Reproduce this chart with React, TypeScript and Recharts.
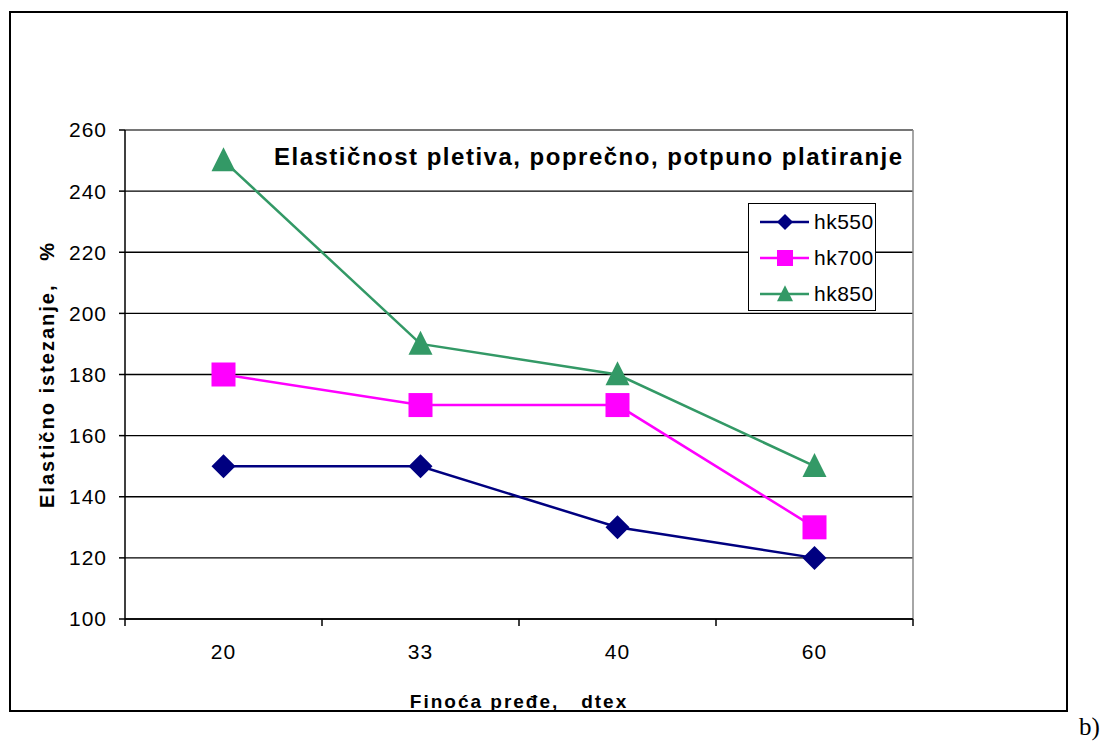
import React from "react";
import {
  LineChart,
  Line,
  XAxis,
  YAxis,
  CartesianGrid,
  Legend,
  ReferenceLine,
} from "recharts";

const categories = ["20", "33", "40", "60"];
const hk550 = [150, 150, 130, 120];
const hk700 = [180, 170, 170, 130];
const hk850 = [250, 190, 180, 150];
const yTicks = [100, 120, 140, 160, 180, 200, 220, 240, 260];

const NAVY = "#000080";
const MAGENTA = "#ff00ff";
const GREEN = "#339966";
const FONT = '"Liberation Sans", Arial, sans-serif';

const series = [
  { key: "hk550", color: NAVY, shape: "diamond" },
  { key: "hk700", color: MAGENTA, shape: "square" },
  { key: "hk850", color: GREEN, shape: "triangle" },
] as const;

const data = categories.map((dtex, i) => ({
  dtex,
  hk550: hk550[i],
  hk700: hk700[i],
  hk850: hk850[i],
}));

type Shape = "diamond" | "square" | "triangle";

function Marker({ cx, cy, shape, color, r }: { cx: number; cy: number; shape: Shape; color: string; r: number }) {
  if (shape === "diamond") {
    return <polygon points={`${cx},${cy - r} ${cx + r},${cy} ${cx},${cy + r} ${cx - r},${cy}`} fill={color} />;
  }
  if (shape === "square") {
    return <rect x={cx - r} y={cy - r} width={2 * r} height={2 * r} fill={color} />;
  }
  return <polygon points={`${cx},${cy - r * 1.1} ${cx + r},${cy + r * 0.9} ${cx - r},${cy + r * 0.9}`} fill={color} />;
}

const dotFor = (shape: Shape, color: string) => (p: any) => (
  <Marker key={`${shape}-${p.index}`} cx={p.cx} cy={p.cy} shape={shape} color={color} r={12} />
);

// Excel style category axis: tick marks sit on the band edges, labels in the middle
function XTick(props: any) {
  const { x, y, payload, index, visibleTicksCount } = props;
  const half = payload.offset || 98.5;
  const top = y - 6;
  return (
    <g>
      <line x1={x - half} x2={x - half} y1={top} y2={top + 7} stroke="#000" strokeWidth={1.5} />
      {index === visibleTicksCount - 1 && (
        <line x1={x + half} x2={x + half} y1={top} y2={top + 7} stroke="#000" strokeWidth={1.5} />
      )}
      <text x={x} y={top + 40} textAnchor="middle" fill="#000" fontSize={21} fontFamily={FONT} letterSpacing={1}>
        {payload.value}
      </text>
    </g>
  );
}

function LegendBox() {
  return (
    <div
      style={{
        width: 128,
        height: 108,
        border: "1px solid #000",
        background: "#fff",
        boxSizing: "border-box",
        paddingTop: 0,
      }}
    >
      {series.map((s) => (
        <div key={s.key} style={{ display: "flex", alignItems: "center", height: 36 }}>
          <svg width={62} height={30} style={{ flex: "none" }}>
            <line x1={11} x2={60} y1={15} y2={15} stroke={s.color} strokeWidth={2.5} />
            <Marker cx={36} cy={15} shape={s.shape} color={s.color} r={8} />
          </svg>
          <span style={{ fontFamily: FONT, fontSize: 21, marginLeft: 3, letterSpacing: 0.5, color: "#000" }}>{s.key}</span>
        </div>
      ))}
    </div>
  );
}

export default function App() {
  return (
    <div style={{ position: "absolute", left: 0, top: 0, width: 1104, height: 742, background: "#fff", fontFamily: FONT }}>
      <div
        style={{
          position: "absolute",
          left: 9,
          top: 11,
          width: 1059,
          height: 701,
          border: "2px solid #000",
          boxSizing: "border-box",
        }}
      />
      <div style={{ position: "absolute", left: 0, top: 0 }}>
        <LineChart width={1104} height={742} data={data} margin={{ top: 130, right: 191, bottom: 28, left: 25 }}>
          <CartesianGrid vertical={false} stroke="#000" strokeWidth={1.3} />
          <ReferenceLine y={260} stroke="#888" strokeWidth={1.5} />
          <ReferenceLine x="60" position="end" stroke="#888" strokeWidth={1.5} />
          <XAxis
            dataKey="dtex"
            type="category"
            scale="band"
            height={95}
            axisLine={{ stroke: "#000", strokeWidth: 1.5 }}
            tickLine={false}
            tickSize={6}
            tickMargin={0}
            interval={0}
            tick={<XTick />}
            label={{
              value: "Finoća pređe,\u00a0\u00a0 dtex",
              position: "insideBottom",
              offset: 6,
              style: { fontFamily: FONT, fontSize: 19, fontWeight: 700, fill: "#000", letterSpacing: 2 },
            }}
          />
          <YAxis
            width={100}
            domain={[100, 260]}
            ticks={yTicks}
            interval={0}
            axisLine={{ stroke: "#000", strokeWidth: 1.5 }}
            tickLine={{ stroke: "#000", strokeWidth: 1.5 }}
            tickSize={6}
            tickMargin={12}
            tick={{ fill: "#000", fontSize: 21, fontFamily: FONT, letterSpacing: 1 }}
            label={{
              value: "Elastično istezanje,\u00a0\u00a0 %",
              angle: -90,
              position: "insideLeft",
              offset: 22,
              style: { fontFamily: FONT, fontSize: 20, fontWeight: 700, fill: "#000", textAnchor: "middle", letterSpacing: 2 },
            }}
          />
          {series.map((s) => (
            <Line
              key={s.key}
              dataKey={s.key}
              type="linear"
              stroke={s.color}
              strokeWidth={2.5}
              dot={dotFor(s.shape, s.color)}
              activeDot={false}
              isAnimationActive={false}
            />
          ))}
          <Legend
            layout="vertical"
            align="center"
            verticalAlign="middle"
            content={() => <LegendBox />}
            wrapperStyle={{ position: "absolute", left: 748, top: 203, width: 128, height: 108 }}
          />
        </LineChart>
      </div>
      <div
        style={{
          position: "absolute",
          left: 274,
          top: 143,
          fontSize: 24,
          fontWeight: 700,
          letterSpacing: 1.5,
          whiteSpace: "nowrap",
          color: "#000",
        }}
      >
        Elastičnost pletiva, poprečno, potpuno platiranje
      </div>
      <div
        style={{
          position: "absolute",
          left: 1079,
          top: 713,
          fontFamily: '"Liberation Serif", "Times New Roman", serif',
          fontSize: 25,
          color: "#000",
        }}
      >
        b)
      </div>
    </div>
  );
}
